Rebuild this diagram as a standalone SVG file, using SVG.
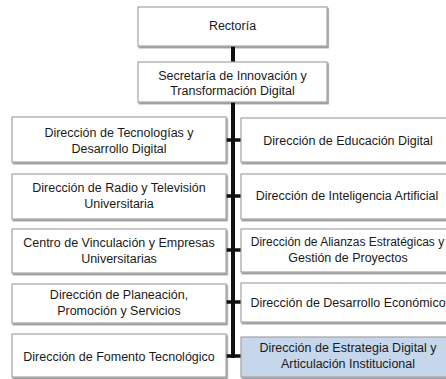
<svg xmlns="http://www.w3.org/2000/svg" width="446" height="379" viewBox="0 0 446 379">
<style>
.box{fill:#ffffff;stroke:#a3a3a3;stroke-width:1.2;filter:url(#sh)}
.hl{fill:#c6d6eb}
.t{font-family:"Liberation Sans",Arial,sans-serif;font-size:12.5px;fill:#1a1a1a;text-anchor:middle}
.s{font-size:12px}
.c{stroke:#111111;stroke-width:4;fill:none}
.k{stroke:#111111;stroke-width:3.5;fill:none}
</style>
<defs>
<filter id="sh" x="-5%" y="-10%" width="112%" height="130%">
<feDropShadow dx="1.2" dy="1.6" stdDeviation="0.7" flood-color="#000000" flood-opacity="0.45"/>
</filter>
</defs>
<g id="connectors">
<line class="c" x1="233" y1="46" x2="233" y2="62"/>
<line class="c" x1="233" y1="102" x2="233" y2="358"/>
<line class="k" x1="226" y1="140" x2="241" y2="140"/>
<line class="k" x1="226" y1="196" x2="241" y2="196"/>
<line class="k" x1="226" y1="250" x2="241" y2="250"/>
<line class="k" x1="226" y1="302" x2="241" y2="302"/>
<line class="k" x1="226" y1="356" x2="241" y2="356"/>
</g>
<g id="rectoria"><rect class="box" x="138" y="7" width="189" height="39"/><text class="t" x="232.5" y="30">Rectoría</text></g>
<g id="secretaria"><rect class="box" x="138" y="62" width="189" height="40"/><text class="t" x="232.5" y="79.5">Secretaría de Innovación y</text><text class="t" x="232.5" y="94.5">Transformación Digital</text></g>
<g id="l1"><rect class="box" x="12" y="117" width="214" height="45"/><text class="t" x="119" y="137">Dirección de Tecnologías y</text><text class="t" x="119" y="152.5">Desarrollo Digital</text></g>
<g id="l2"><rect class="box" x="12" y="174" width="214" height="45"/><text class="t" x="119" y="192">Dirección de Radio y Televisión</text><text class="t" x="119" y="207.5">Universitaria</text></g>
<g id="l3"><rect class="box" x="12" y="229" width="214" height="44"/><text class="t" x="119" y="247">Centro de Vinculación y Empresas</text><text class="t" x="119" y="262.5">Universitarias</text></g>
<g id="l4"><rect class="box" x="12" y="284" width="214" height="39"/><text class="t" x="119" y="299">Dirección de Planeación,</text><text class="t" x="119" y="315">Promoción y Servicios</text></g>
<g id="l5"><rect class="box" x="12" y="334" width="214" height="43"/><text class="t" x="119" y="361">Dirección de Fomento Tecnológico</text></g>
<g id="r1"><rect class="box" x="241" y="118" width="214" height="44"/><text class="t" x="348" y="144.5">Dirección de Educación Digital</text></g>
<g id="r2"><rect class="box" x="241" y="174" width="214" height="45"/><text class="t" x="347" y="199.5">Dirección de Inteligencia Artificial</text></g>
<g id="r3"><rect class="box" x="241" y="229" width="214" height="43"/><text class="t s" x="347.5" y="246">Dirección de Alianzas Estratégicas y</text><text class="t" x="348" y="262">Gestión de Proyectos</text></g>
<g id="r4"><rect class="box" x="241" y="283" width="214" height="39"/><text class="t" x="348" y="306.5">Dirección de Desarrollo Económico</text></g>
<g id="r5"><rect class="box hl" x="241" y="337" width="214" height="40"/><text class="t" x="348" y="352">Dirección de Estrategia Digital y</text><text class="t" x="348" y="368">Articulación Institucional</text></g>
</svg>
